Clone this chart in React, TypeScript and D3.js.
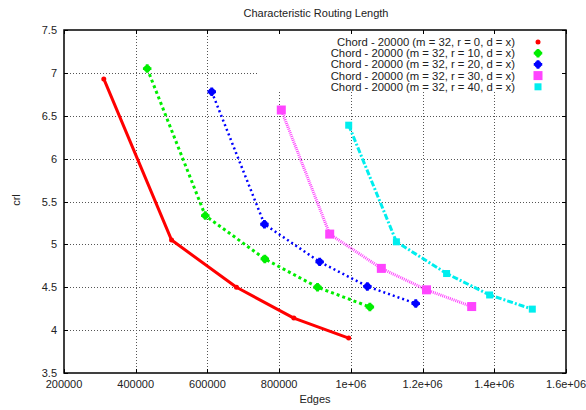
import { useEffect, useRef } from 'react'
import * as d3 from 'd3'

const seriesNames = [
  'Chord - 20000 (m = 32, r = 0, d = x)',
  'Chord - 20000 (m = 32, r = 10, d = x)',
  'Chord - 20000 (m = 32, r = 20, d = x)',
  'Chord - 20000 (m = 32, r = 30, d = x)',
  'Chord - 20000 (m = 32, r = 40, d = x)',
]
const edgesR0 = [311000, 500000, 681000, 841000, 994000]
const crlR0 = [6.93, 5.05, 4.5, 4.14, 3.907]
const edgesR10 = [432000, 594000, 760000, 907000, 1053000]
const crlR10 = [7.05, 5.336, 4.83, 4.5, 4.27]
const edgesR20 = [612000, 759000, 913000, 1046000, 1181000]
const crlR20 = [6.78, 5.235, 4.796, 4.51, 4.31]
const edgesR30 = [806000, 941000, 1085000, 1211000, 1337000]
const crlR30 = [6.567, 5.12, 4.72, 4.47, 4.275]
const edgesR40 = [994000, 1127000, 1267000, 1387000, 1506000]
const crlR40 = [6.39, 5.03, 4.66, 4.41, 4.245]

const xTicks = [200000, 400000, 600000, 800000, 1000000, 1200000, 1400000, 1600000]
const xTickLabels = ['200000', '400000', '600000', '800000', '1e+06', '1.2e+06', '1.4e+06', '1.6e+06']
const yTicks = [3.5, 4, 4.5, 5, 5.5, 6, 6.5, 7, 7.5]

const styles = [
  { color: '#ff0000', dash: null, width: 3, marker: 'circle', size: 2.5 },
  { color: '#00ee00', dash: '3 3', width: 3, marker: 'blob', size: 3.5 },
  { color: '#0000ff', dash: '2 3', width: 2.5, marker: 'blob', size: 3.5 },
  { color: '#ff44ff', dash: '1 1', width: 3, marker: 'square', size: 4.5 },
  { color: '#00eeee', dash: '6 2 2 2', width: 3, marker: 'square', size: 3.5 },
]

export default function App() {
  const svgRef = useRef<SVGSVGElement>(null)

  useEffect(() => {
    const width = 586, height = 410
    const svg = d3.select(svgRef.current)
    svg.selectAll('*').remove()
    svg.attr('width', width).attr('height', height)
      .style('position', 'absolute').style('left', 0).style('top', 0)
      .style('font-family', 'Liberation Sans, Arial, sans-serif')

    const left = 64, right = 566, top = 30, bottom = 373
    const x = d3.scaleLinear().domain([200000, 1600000]).range([left, right])
    const y = d3.scaleLinear().domain([3.5, 7.5]).range([bottom, top])

    // legend box area that hides the grid
    const legBottom = 92, legLeft = 258

    const grid = svg.append('g')
      .attr('stroke', '#555').attr('stroke-width', 1).attr('stroke-dasharray', '1 2')
    xTicks.slice(1, -1).forEach(t => {
      const px = Math.round(x(t)) + 0.5
      const y1 = px > legLeft ? legBottom : top
      grid.append('line').attr('x1', px).attr('x2', px).attr('y1', y1).attr('y2', bottom)
    })
    yTicks.slice(1, -1).forEach(t => {
      const py = Math.round(y(t)) + 0.5
      const x2 = py < legBottom ? legLeft : right
      grid.append('line').attr('x1', left).attr('x2', x2).attr('y1', py).attr('y2', py)
    })

    // frame
    svg.append('rect').attr('x', left).attr('y', top)
      .attr('width', right - left).attr('height', bottom - top)
      .attr('fill', 'none').attr('stroke', '#000').attr('stroke-width', 1.5)

    // ticks (inward, mirrored)
    const ticks = svg.append('g').attr('stroke', '#000').attr('stroke-width', 1)
    xTicks.forEach(t => {
      const px = Math.round(x(t)) + 0.5
      ticks.append('line').attr('x1', px).attr('x2', px).attr('y1', bottom).attr('y2', bottom - 4)
      ticks.append('line').attr('x1', px).attr('x2', px).attr('y1', top).attr('y2', top + 4)
    })
    yTicks.forEach(t => {
      const py = Math.round(y(t)) + 0.5
      ticks.append('line').attr('x1', left).attr('x2', left + 4).attr('y1', py).attr('y2', py)
      ticks.append('line').attr('x1', right).attr('x2', right - 4).attr('y1', py).attr('y2', py)
    })

    xTicks.forEach((t, i) => {
      svg.append('text').attr('x', x(t)).attr('y', 388)
        .attr('text-anchor', 'middle').attr('font-size', 11).attr('fill', '#222')
        .text(xTickLabels[i])
    })
    yTicks.forEach(t => {
      svg.append('text').attr('x', 57).attr('y', y(t) + 4)
        .attr('text-anchor', 'end').attr('font-size', 11).attr('fill', '#222')
        .text(String(t))
    })

    svg.append('text').attr('x', 316).attr('y', 17).attr('text-anchor', 'middle')
      .attr('font-size', 11).attr('fill', '#222').text('Characteristic Routing Length')
    svg.append('text').attr('x', 315).attr('y', 403).attr('text-anchor', 'middle')
      .attr('font-size', 11).attr('fill', '#222').text('Edges')
    svg.append('text').attr('transform', 'translate(20,200) rotate(-90)')
      .attr('text-anchor', 'middle').attr('font-size', 11).attr('fill', '#222').text('crl')

    const allEdges = [edgesR0, edgesR10, edgesR20, edgesR30, edgesR40]
    const allCrl = [crlR0, crlR10, crlR20, crlR30, crlR40]

    const line = d3.line<[number, number]>().x(d => x(d[0])).y(d => y(d[1]))

    const drawMarker = (g: any, s: any, cx: number, cy: number) => {
      if (s.marker === 'circle') {
        g.append('circle').attr('cx', cx).attr('cy', cy).attr('r', s.size).attr('fill', s.color)
      } else if (s.marker === 'blob') {
        g.append('path')
          .attr('d', d3.symbol(d3.symbolCross, 40)())
          .attr('transform', `translate(${cx},${cy})`)
          .attr('fill', s.color)
        g.append('circle').attr('cx', cx).attr('cy', cy).attr('r', 3.4).attr('fill', s.color)
      } else {
        g.append('rect').attr('x', cx - s.size).attr('y', cy - s.size)
          .attr('width', s.size * 2).attr('height', s.size * 2).attr('fill', s.color)
      }
    }

    allEdges.forEach((edges, i) => {
      const s = styles[i]
      const pts: [number, number][] = edges.map((e, j) => [e, allCrl[i][j]])
      const g = svg.append('g')
      g.append('path').attr('d', line(pts)!)
        .attr('fill', 'none').attr('stroke', s.color).attr('stroke-width', s.width)
        .attr('stroke-dasharray', s.dash).attr('stroke-linejoin', 'round')
      pts.forEach(p => drawMarker(g, s, x(p[0]), y(p[1])))
    })

    // legend
    seriesNames.forEach((name, i) => {
      const ly = 42 + i * 11.2
      svg.append('text').attr('x', 515).attr('y', ly + 4)
        .attr('text-anchor', 'end').attr('font-size', 11.3).attr('fill', '#222').text(name)
      drawMarker(svg, styles[i], 538, ly)
    })
  }, [])

  return <svg ref={svgRef} />
}
